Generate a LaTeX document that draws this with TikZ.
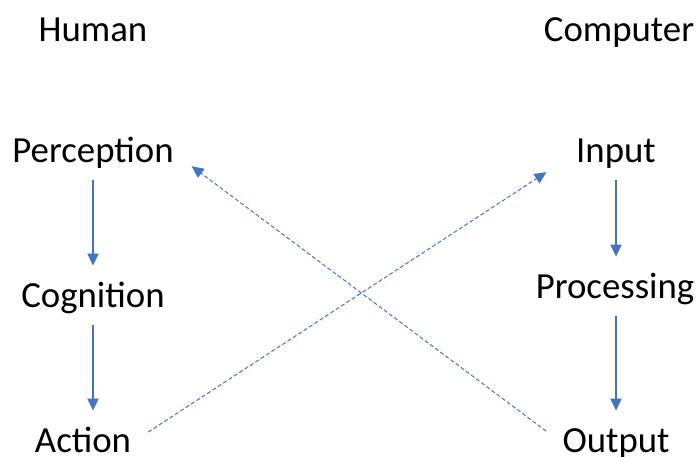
\documentclass[tikz,border=0pt]{standalone}
\usepackage{fontspec}
\setmainfont{Carlito}
\usetikzlibrary{arrows.meta}
\definecolor{arrblue}{HTML}{4472C4}
\tikzset{
  lbl/.style={anchor=base, inner sep=0pt, text height=12.5pt, text depth=3.5pt, font=\fontsize{18.4pt}{22pt}\selectfont},
  solidarr/.style={draw=arrblue, line width=0.75pt, -{Triangle[length=6pt,width=5.5pt]}, shorten <=5.5pt, shorten >=8pt},
  dasharr/.style={draw=arrblue, line width=0.5pt, dash pattern=on 2pt off 1.2pt, -{Triangle[length=6pt,width=5.5pt]}}
}
\begin{document}
\begin{tikzpicture}[x=0.5pt, y=-0.5pt]
\useasboundingbox (0,0) rectangle (699,456);
\node[lbl] (hum) at (93,41) {Human};
\node[lbl] (comp) at (619,41) {Computer};
\node[lbl] (per) at (93,162) {Perception};
\node[lbl] (cog) at (93,307) {Cognition};
\node[lbl] (act) at (83,452) {Action};
\node[lbl] (inp) at (616,162) {Input};
\node[lbl] (proc) at (615,298) {Processing};
\node[lbl] (out) at (616,452) {Output};
\draw[solidarr] (per.south) -- (cog.north);
\draw[solidarr] (cog.south) -- (act.north -| cog.south);
\draw[solidarr] (inp.south) -- (proc.north -| inp.south);
\draw[solidarr] (proc.south -| inp.south) -- (out.north -| inp.south);
\draw[dasharr, shorten <=10pt, shorten >=17.5pt] (act.east) -- (inp.west);
\draw[dasharr, shorten <=10pt, shorten >=11pt] (out.west) -- (per.east);
\end{tikzpicture}
\end{document}
